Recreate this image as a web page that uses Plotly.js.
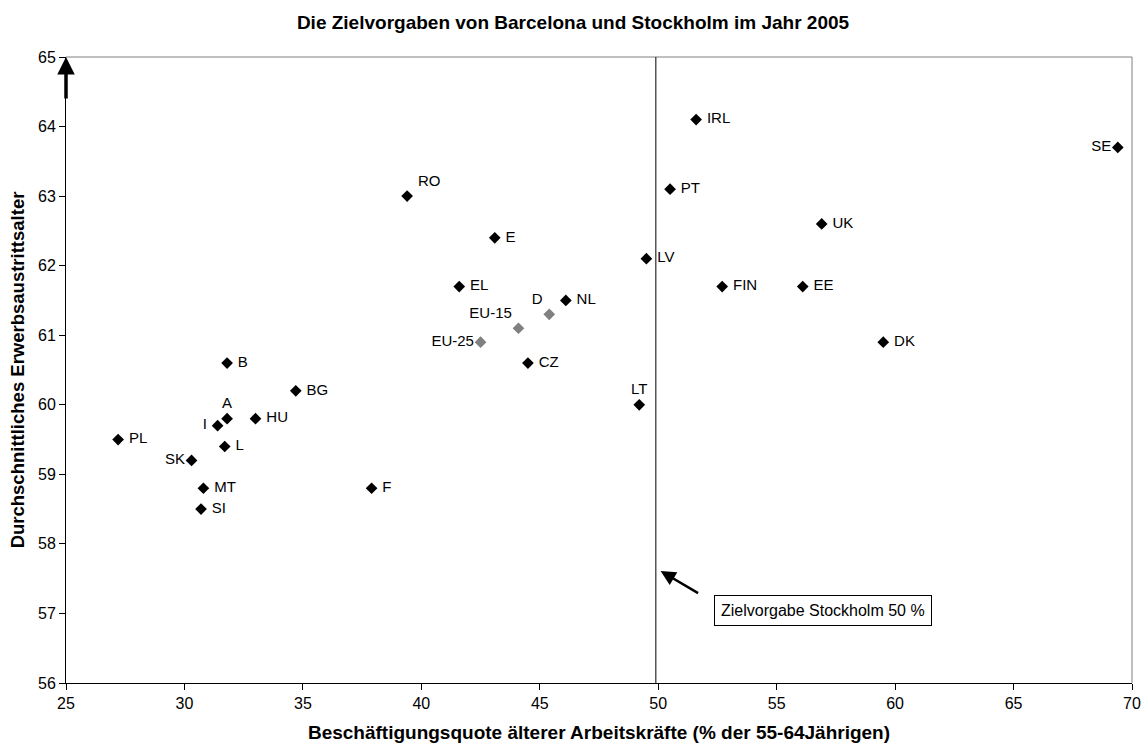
<!DOCTYPE html>
<html>
<head>
<meta charset="utf-8">
<script src="https://cdn.plot.ly/plotly-3.0.1.min.js"></script>
<style>html,body{margin:0;padding:0;background:#fff;}#chart{width:1146px;height:749px;}</style>
</head>
<body>
<div id="chart"></div>
<script>
// Countries (black markers)
const countries = ["IRL","SE","PT","UK","LV","FIN","EE","DK","RO","E","EL","NL","CZ","LT","B","BG","A","I","HU","PL","L","SK","MT","SI","F"];
const countryRate = [51.6,69.4,50.5,56.9,49.5,52.7,56.1,59.5,39.4,43.1,41.6,46.1,44.5,49.2,31.8,34.7,31.8,31.4,33.0,27.2,31.7,30.3,30.8,30.7,37.9];
const countryAge  = [64.1,63.7,63.1,62.6,62.1,61.7,61.7,60.9,63.0,62.4,61.7,61.5,60.6,60.0,60.6,60.2,59.8,59.7,59.8,59.5,59.4,59.2,58.8,58.5,58.8];
const countryLabelPos = ["middle right","middle left","middle right","middle right","middle right","middle right","middle right","middle right","top right","middle right","middle right","middle right","middle right","top center","middle right","middle right","top center","middle left","middle right","middle right","middle right","middle left","middle right","middle right","middle right"];

// Aggregates (grey markers)
const aggregates = ["D","EU-15","EU-25"];
const aggRate = [45.4,44.1,42.5];
const aggAge  = [61.3,61.1,60.9];
const aggLabelPos = ["top left","top left","middle left"];

const stockholmTarget = 49.9;
const xTicks = [25,30,35,40,45,50,55,60,65,70];
const yTicks = [56,57,58,59,60,61,62,63,64,65];

const FONT = "Liberation Sans, Arial, sans-serif";
const NB = "\u00a0";

// add a small gap between marker and label (as in the original chart)
function pad(labels, pos) {
  return labels.map((t, i) => {
    const p = pos[i];
    if (p === "middle right" || p === "top right") return NB + t;
    if (p === "middle left" && (t === "I")) return t + NB;
    return t;
  });
}

const traces = [
  {
    type: "scatter", mode: "markers+text",
    x: countryRate, y: countryAge, text: pad(countries, countryLabelPos),
    textposition: countryLabelPos,
    textfont: {family: FONT, size: 15, color: "#000"},
    marker: {symbol: "diamond", size: 9, color: "#000"},
    showlegend: false, hoverinfo: "x+y+text", cliponaxis: false
  },
  {
    type: "scatter", mode: "markers+text",
    x: aggRate, y: aggAge, text: pad(aggregates, aggLabelPos),
    textposition: aggLabelPos,
    textfont: {family: FONT, size: 15, color: "#000"},
    marker: {symbol: "diamond", size: 9, color: "#808080"},
    showlegend: false, hoverinfo: "x+y+text", cliponaxis: false
  }
];

const layout = {
  width: 1146, height: 749,
  margin: {l: 66, r: 14, t: 57, b: 66},
  paper_bgcolor: "#fff", plot_bgcolor: "#fff",
  font: {family: FONT, size: 15, color: "#000"},
  title: {
    text: "<b>Die Zielvorgaben von Barcelona und Stockholm im Jahr 2005</b>",
    font: {family: FONT, size: 19, color: "#000"},
    x: 0.5, xanchor: "center", y: 0.9706, yanchor: "middle"
  },
  xaxis: {
    range: [25, 70], tickvals: xTicks, ticktext: xTicks.map(String),
    showgrid: false, zeroline: false,
    showline: true, linecolor: "#000", linewidth: 1,
    ticks: "outside", ticklen: 6, tickcolor: "#000",
    tickfont: {family: FONT, size: 16},
    title: {text: "<b>Beschäftigungsquote älterer Arbeitskräfte (% der 55-64Jährigen)</b>",
            font: {family: FONT, size: 19}, standoff: 14}
  },
  yaxis: {
    range: [56, 65], tickvals: yTicks, ticktext: yTicks.map(String),
    showgrid: false, zeroline: false,
    showline: true, linecolor: "#000", linewidth: 1,
    ticks: "outside", ticklen: 6, tickcolor: "#000",
    tickfont: {family: FONT, size: 16},
    title: {text: "<b>Durchschnittliches Erwerbsaustrittsalter</b>",
            font: {family: FONT, size: 18.5}, standoff: 8}
  },
  shapes: [
    {type: "line", xref: "paper", yref: "paper", x0: 0, x1: 1, y0: 1, y1: 1, line: {color: "#808080", width: 1}, layer: "below"},
    {type: "line", xref: "paper", yref: "paper", x0: 1, x1: 1, y0: 0, y1: 1, line: {color: "#808080", width: 1}, layer: "below"},
    {type: "line", xref: "x", yref: "paper", x0: stockholmTarget, x1: stockholmTarget, y0: 0, y1: 1, line: {color: "#000", width: 1}, layer: "below"}
  ],
  annotations: [
    {x: 25, y: 65, xref: "x", yref: "y", text: "", showarrow: true,
     ax: 0, ay: 43, axref: "pixel", ayref: "pixel",
     arrowhead: 2, arrowsize: 1, arrowwidth: 3.5, arrowcolor: "#000"},
    {x: 50.1, y: 57.61, xref: "x", yref: "y", text: "", showarrow: true,
     ax: 39, ay: 23, arrowhead: 2, arrowsize: 1.2, arrowwidth: 2.5, arrowcolor: "#000"},
    {x: 56.95, y: 57.04, xref: "x", yref: "y", text: "Zielvorgabe Stockholm 50 %",
     showarrow: false, font: {family: FONT, size: 16, color: "#000"},
     bordercolor: "#000", borderwidth: 1, borderpad: 6, bgcolor: "#fff"}
  ]
};

Plotly.newPlot("chart", traces, layout, {displayModeBar: false, staticPlot: true});
</script>
</body>
</html>
